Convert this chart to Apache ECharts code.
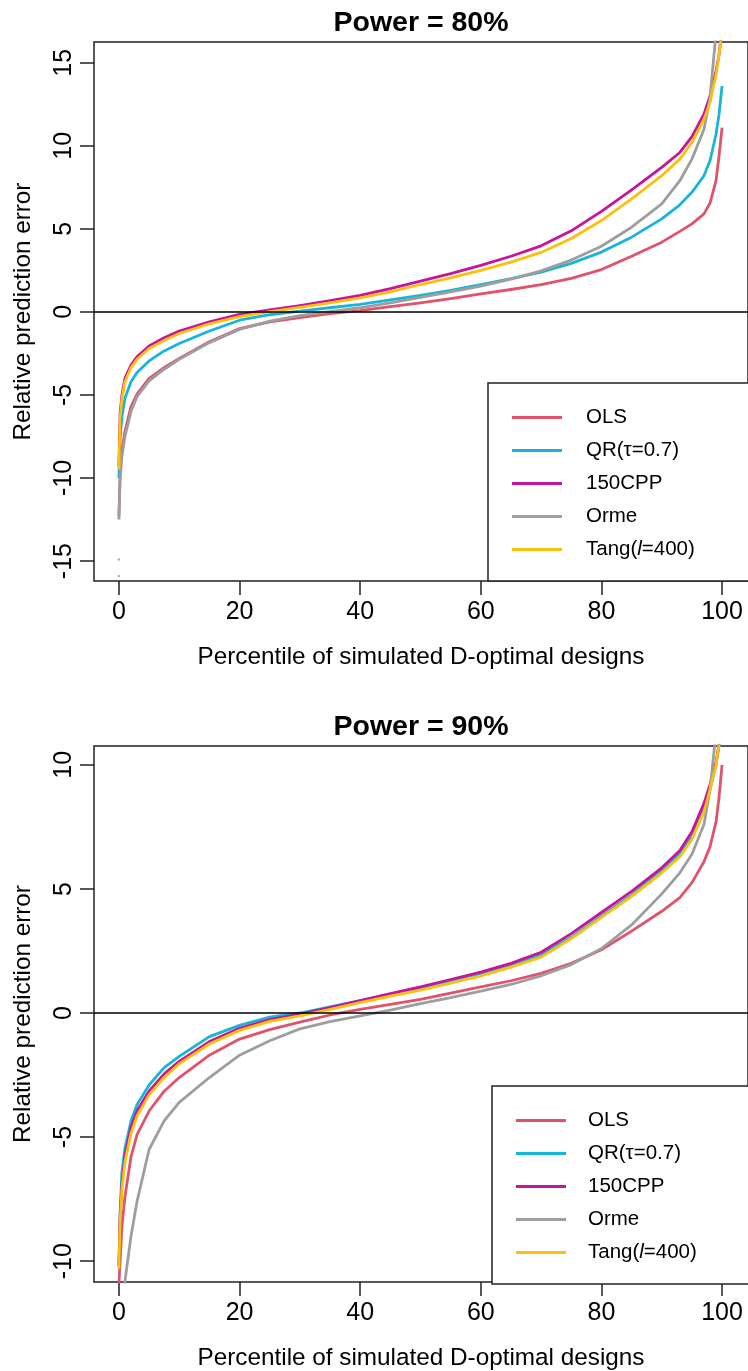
<!DOCTYPE html>
<html><head><meta charset="utf-8">
<script src="https://cdn.jsdelivr.net/npm/echarts@6/dist/echarts.min.js"></script>
<style>html,body{margin:0;padding:0;background:#fff}#c{width:748px;height:1371px}</style>
</head><body><div id="c"></div>
<script>
// ---- data ----
const percentiles = [0, 0.2, 0.5, 1, 2, 3, 5, 7.5, 10, 15, 20, 25, 30, 35, 40, 45, 50, 55, 60, 65, 70, 75, 80, 85, 90, 93, 95, 97, 98, 99, 99.5, 100];
const xTicks = [0, 20, 40, 60, 80, 100];
const yTicksTop = [-15, -10, -5, 0, 5, 10, 15];
const yTicksBottom = [-10, -5, 0, 5, 10];
const titles = ['Power = 80%', 'Power = 90%'];
const seriesNames = ['OLS', 'QR(τ=0.7)', '150CPP', 'Orme', 'Tang(l=400)'];

// Power = 80%
const ols80  = [-12.3, -9.6, -8.3, -7.2, -5.7, -4.95, -4.0, -3.35, -2.8, -1.8, -1.0, -0.6, -0.35, -0.1, 0.08, 0.32, 0.55, 0.8, 1.08, 1.35, 1.65, 2.02, 2.55, 3.35, 4.2, 4.85, 5.3, 5.9, 6.55, 7.9, 9.4, 11.1];
const qr80   = [-10.0, -7.6, -6.3, -5.2, -4.2, -3.65, -2.95, -2.35, -1.9, -1.15, -0.5, -0.17, 0.05, 0.25, 0.45, 0.72, 1.0, 1.3, 1.65, 2.0, 2.4, 2.92, 3.6, 4.5, 5.6, 6.45, 7.2, 8.2, 9.1, 10.7, 11.9, 13.6];
const cpp80  = [-9.3, -6.1, -5.0, -4.0, -3.2, -2.7, -2.05, -1.55, -1.15, -0.6, -0.15, 0.12, 0.38, 0.68, 1.0, 1.4, 1.85, 2.3, 2.8, 3.35, 3.98, 4.88, 6.05, 7.35, 8.7, 9.6, 10.55, 11.9, 13.0, 14.5, 15.5, 17.0];
const orme80 = [-12.5, -10.0, -8.7, -7.5, -6.0, -5.1, -4.15, -3.45, -2.85, -1.85, -1.05, -0.55, -0.22, 0.02, 0.25, 0.55, 0.88, 1.2, 1.55, 1.97, 2.47, 3.12, 3.95, 5.1, 6.5, 7.9, 9.2, 11.0, 12.9, 16.8, 18.0, 19.0];
const tang80 = [-9.5, -6.4, -5.2, -4.2, -3.35, -2.85, -2.2, -1.72, -1.3, -0.72, -0.28, 0.02, 0.27, 0.55, 0.85, 1.2, 1.65, 2.05, 2.5, 3.0, 3.58, 4.42, 5.5, 6.8, 8.2, 9.2, 10.2, 11.6, 12.6, 14.3, 15.5, 17.0];
const ormeMin80 = [[0, -15.9], [0, -14.9]];

// Power = 90%
const ols90  = [-10.9, -10.0, -8.6, -7.4, -5.8, -4.9, -3.95, -3.15, -2.6, -1.7, -1.05, -0.67, -0.37, -0.08, 0.15, 0.35, 0.55, 0.8, 1.05, 1.3, 1.6, 2.0, 2.55, 3.3, 4.1, 4.65, 5.25, 6.1, 6.7, 7.7, 8.7, 10.0];
const qr90   = [-10.2, -8.0, -6.4, -5.45, -4.35, -3.7, -2.9, -2.2, -1.75, -0.95, -0.5, -0.17, 0.0, 0.25, 0.5, 0.75, 1.0, 1.3, 1.6, 1.95, 2.35, 3.05, 3.9, 4.75, 5.75, 6.45, 7.1, 8.2, 9.0, 10.0, 10.8, 11.5];
const cpp90  = [-10.2, -8.2, -6.9, -5.75, -4.6, -3.95, -3.15, -2.45, -1.95, -1.15, -0.62, -0.27, -0.05, 0.22, 0.5, 0.78, 1.05, 1.35, 1.65, 2.0, 2.45, 3.2, 4.05, 4.9, 5.85, 6.55, 7.3, 8.45, 9.2, 10.1, 10.8, 11.5];
const orme90 = [-14.0, -13.0, -12.0, -10.8, -9.0, -7.6, -5.5, -4.35, -3.6, -2.6, -1.7, -1.12, -0.64, -0.35, -0.12, 0.12, 0.38, 0.62, 0.88, 1.15, 1.5, 1.95, 2.6, 3.55, 4.8, 5.65, 6.4, 7.6, 9.0, 11.3, 12.0, 13.0];
const tang90 = [-10.3, -8.4, -7.1, -6.0, -4.85, -4.15, -3.3, -2.6, -2.05, -1.25, -0.7, -0.34, -0.12, 0.15, 0.42, 0.68, 0.92, 1.2, 1.5, 1.85, 2.25, 3.0, 3.85, 4.7, 5.65, 6.3, 7.0, 8.1, 9.0, 10.0, 10.8, 11.5];

// ---- styling ----
const colors = ['#DF536B', '#17B5DA', '#C8139B', '#9E9E9E', '#FBBF0D'];
const FONT = 'Liberation Sans, Arial, Helvetica, sans-serif';

const chart = echarts.init(document.getElementById('c'), null, {renderer: 'canvas'});

function pairs(vals) { return percentiles.map((p, i) => [p, vals[i]]); }

const groups = [
  {data: [ols80, qr80, cpp80, orme80, tang80], ticks: yTicksTop, min: -16.2, max: 16.25, top: 42, height: 539, legendLeft: 488, legendTop: 383, textPad: 19, extra: ormeMin80},
  {data: [ols90, qr90, cpp90, orme90, tang90], ticks: yTicksBottom, min: -10.84, max: 10.76, top: 746, height: 538, legendLeft: 492, legendTop: 1086, textPad: 17, extra: null}
];

const grids = [], xAxes = [], yAxes = [], series = [], legends = [], titleOpts = [];
groups.forEach((g, gi) => {
  grids.push({left: 94, top: g.top, width: 656, height: g.height, show: true, borderColor: '#222', borderWidth: 1.5, backgroundColor: 'transparent'});
  xAxes.push({
    type: 'value', gridIndex: gi, min: -4.132, max: 104.3,
    axisLine: {show: false, onZero: false},
    splitLine: {show: false},
    axisTick: {show: true, length: 14, customValues: xTicks, lineStyle: {color: '#222', width: 1.5}},
    axisLabel: {customValues: xTicks, fontSize: 25, color: '#000', fontFamily: FONT, margin: 19},
    name: 'Percentile of simulated D-optimal designs', nameLocation: 'middle', nameGap: 64,
    nameTextStyle: {fontSize: 24.3, color: '#000', fontFamily: FONT}
  });
  yAxes.push({
    type: 'value', gridIndex: gi, min: g.min, max: g.max,
    axisLine: {show: false, onZero: false},
    splitLine: {show: false},
    axisTick: {show: true, length: 14, customValues: g.ticks, lineStyle: {color: '#222', width: 1.5}},
    axisLabel: {customValues: g.ticks, fontSize: 25, color: '#000', fontFamily: FONT, rotate: 90, margin: 17},
    name: 'Relative prediction error', nameLocation: 'middle', nameGap: 59, nameRotate: 90,
    nameTextStyle: {fontSize: 24.3, color: '#000', fontFamily: FONT}
  });
  g.data.forEach((vals, si) => {
    const s = {
      type: 'line', name: seriesNames[si], xAxisIndex: gi, yAxisIndex: gi,
      data: pairs(vals), showSymbol: false, symbol: 'none', smooth: false, clip: true,
      lineStyle: {color: colors[si], width: 2.8, join: 'round'}, itemStyle: {color: colors[si]}, z: 2
    };
    if (si === 0) {
      s.markLine = {silent: true, symbol: 'none', label: {show: false}, animation: false,
        lineStyle: {color: '#000', width: 1.5, type: 'solid'}, data: [{yAxis: 0}]};
    }
    series.push(s);
  });
  if (g.extra) {
    series.push({type: 'scatter', name: 'Orme', xAxisIndex: gi, yAxisIndex: gi, data: g.extra,
      symbolSize: 2.5, itemStyle: {color: colors[3]}, z: 2});
  }
  legends.push({
    orient: 'vertical', left: g.legendLeft, top: g.legendTop,
    data: seriesNames, icon: 'rect', itemWidth: 50, itemHeight: 3, itemGap: 12,
    backgroundColor: '#fff', borderColor: '#222', borderWidth: 1.5,
    padding: [24, 300, 21, 24], selectedMode: false, z: 5,
    formatter: name => name.replace('(l=', '({it|l}='),
    textStyle: {fontSize: 20.5, color: '#000', fontFamily: FONT, lineHeight: 20, padding: [0, 0, 0, g.textPad],
      rich: {it: {fontSize: 20.5, fontStyle: 'italic', color: '#000', fontFamily: FONT, lineHeight: 20}}}
  });
  titleOpts.push({text: titles[gi], left: 421, top: g.top - 33, textAlign: 'center', padding: 0,
    textStyle: {fontSize: 28.5, fontWeight: 'bold', color: '#000', fontFamily: FONT}});
});

chart.setOption({
  animation: false,
  backgroundColor: '#fff',
  title: titleOpts,
  legend: legends,
  grid: grids,
  xAxis: xAxes,
  yAxis: yAxes,
  series: series
});
</script></body></html>
